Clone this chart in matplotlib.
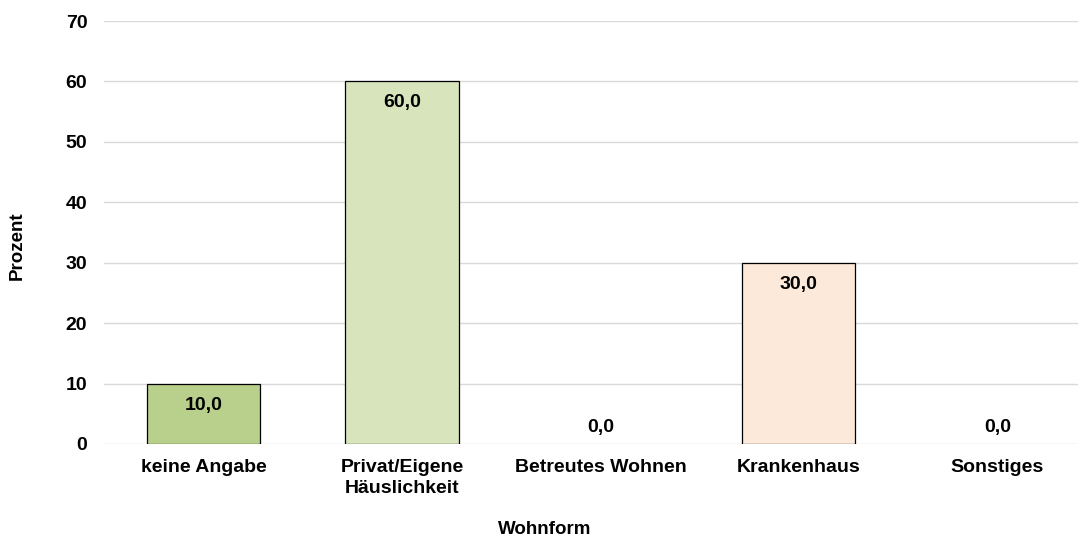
import matplotlib
matplotlib.use("Agg")
import matplotlib.pyplot as plt

categories = ["keine Angabe", "Privat/Eigene\nHäuslichkeit", "Betreutes Wohnen", "Krankenhaus", "Sonstiges"]
values = [10.0, 60.0, 0.0, 30.0, 0.0]
colors = ["#B8D08B", "#D8E4BC", "#D8E4BC", "#FDE9D9", "#FDE9D9"]
yticks = [0, 10, 20, 30, 40, 50, 60, 70]

plt.rcParams['font.family'] = ['Liberation Sans', 'DejaVu Sans']

fig = plt.figure(figsize=(10.89, 5.40), dpi=100)
ax = fig.add_axes([104/1089, 1-444/540, (1078-104)/1089, (444-21)/540])

x = list(range(len(categories)))
lws = [0.9 if v > 0 else 0 for v in values]
bars = ax.bar(x, values, width=0.57, color=colors, edgecolor="black", linewidth=lws, zorder=3)
for xi, v in zip(x, values):
    lab = f"{v:.1f}".replace(".", ",")
    if v > 0:
        ax.annotate(lab, (xi, v), xytext=(0, -15.5), textcoords="offset points",
                    ha="center", va="center", fontsize=14, fontweight="bold", zorder=4)
    else:
        ax.annotate(lab, (xi, v), xytext=(0, 12), textcoords="offset points",
                    ha="center", va="center", fontsize=14, fontweight="bold", zorder=4)

ax.set_xlim(-0.501, 4.406)
ax.set_ylim(0, 70)
ax.set_yticks(yticks)
ax.set_yticklabels([str(t) for t in yticks], fontsize=14, fontweight="bold")
ax.set_xticks(x)
ax.set_xticklabels(categories, fontsize=14, fontweight="bold", linespacing=1.25)
ax.tick_params(axis="both", length=0)
ax.tick_params(axis="x", pad=11)
ax.tick_params(axis="y", pad=12)
for s in ax.spines.values():
    s.set_visible(False)
ax.grid(axis="y", color="#D9D9D9", linewidth=1, zorder=0)
ax.set_axisbelow(True)

fig.text(17/1089, 1-246/540, "Prozent", rotation=90, ha="center", va="center", fontsize=13.5, fontweight="bold")
fig.text(545/1089, 1-530/540, "Wohnform", ha="center", va="center", fontsize=13.5, fontweight="bold")

fig.savefig("out.png", dpi=100)
